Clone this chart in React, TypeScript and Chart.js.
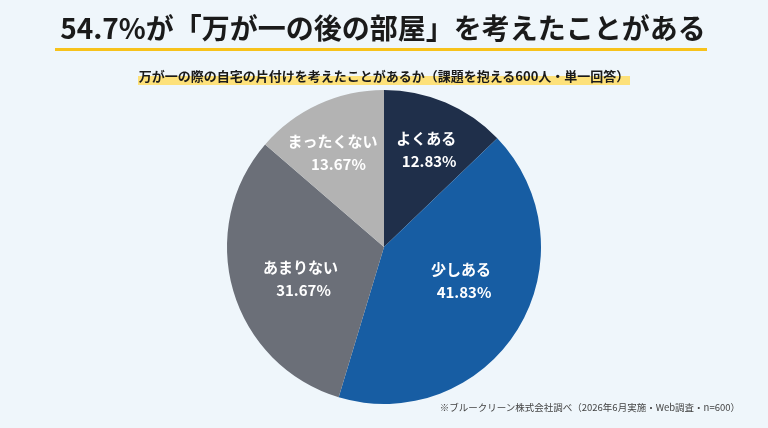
import React, { useEffect, useRef } from "react";
import { Chart, registerables } from "chart.js";

Chart.register(...registerables);

const categories = ["よくある", "少しある", "あまりない", "まったくない"];
const values = [12.83, 41.83, 31.67, 13.67];
const colors = ["#1f2f4a", "#175da3", "#6b6f78", "#b3b3b3"];
const titleText = "54.7%が「万が一の後の部屋」を考えたことがある";
const subtitleText = "万が一の際の自宅の片付けを考えたことがあるか（課題を抱える600人・単一回答）";
const noteText = "※ブルークリーン株式会社調べ（2026年6月実施・Web調査・n=600）";

const FONT = '"Noto Sans CJK JP", "Noto Sans", sans-serif';
const labelNudge = [
  { dx: 4, dy: -7 },
  { dx: -6, dy: -17 },
  { dx: 10, dy: 5 },
  { dx: -11, dy: -5 },
];

const labelPlugin = {
  id: "sliceLabels",
  afterDatasetsDraw(chart: any) {
    const ctx = chart.ctx;
    const meta = chart.getDatasetMeta(0);
    ctx.save();
    ctx.fillStyle = "#ffffff";
    ctx.font = `bold 15px ${FONT}`;
    ctx.textAlign = "center";
    ctx.textBaseline = "middle";
    meta.data.forEach((arc: any, i: number) => {
      const p = arc.getProps(["x", "y", "startAngle", "endAngle", "outerRadius"], true);
      const mid = (p.startAngle + p.endAngle) / 2;
      const r = p.outerRadius * 0.62;
      const n = labelNudge[i] || { dx: 0, dy: 0 };
      const cx = p.x + Math.cos(mid) * r + n.dx;
      const cy = p.y + Math.sin(mid) * r + n.dy;
      ctx.fillText(categories[i], cx, cy - 12);
      ctx.fillText(values[i].toFixed(2) + "%", cx + (i === 3 ? 6 : 3), cy + 11);
    });
    ctx.restore();
  },
};

export default function App() {
  const ref = useRef<HTMLCanvasElement | null>(null);
  useEffect(() => {
    document.body.style.margin = "0";
    if (!ref.current) return;
    const chart = new Chart(ref.current, {
      type: "pie",
      data: {
        labels: categories,
        datasets: [
          {
            data: values,
            backgroundColor: colors,
            borderWidth: 0,
          },
        ],
      },
      options: {
        responsive: false,
        animation: false,
        layout: { padding: { top: 90, bottom: 24, left: 0, right: 0 } },
        plugins: {
          legend: { display: false },
          tooltip: { enabled: false },
          title: { display: false },
        },
      },
      plugins: [labelPlugin],
    });
    return () => chart.destroy();
  }, []);

  return (
    <div
      style={{
        position: "absolute",
        left: 0,
        top: 0,
        width: 768,
        height: 428,
        background: "#eff6fb",
        overflow: "hidden",
        fontFamily: FONT,
      }}
    >
      <canvas ref={ref} width={768} height={428} style={{ position: "absolute", left: 0, top: 0 }} />
      <div
        style={{
          position: "absolute",
          left: 55,
          width: 652,
          top: 8,
          height: 40,
          borderBottom: "3px solid #f7c21b",
          textAlign: "center",
          fontSize: 28,
          fontWeight: 700,
          color: "#1a1a1a",
          lineHeight: "38px",
          paddingLeft: 4,
          boxSizing: "content-box",
          width: 648,
        }}
      >
        {titleText}
      </div>
      <div style={{ position: "absolute", left: 0, width: 768, top: 62, textAlign: "center" }}>
        <span
          style={{
            fontSize: 13,
            fontWeight: 700,
            color: "#1a1a1a",
            lineHeight: "20px",
            background: "linear-gradient(transparent 55%, #fde17a 55%)",
            padding: "0 1px",
          }}
        >
          {subtitleText}
        </span>
      </div>
      <div
        style={{
          position: "absolute",
          right: 28,
          top: 399,
          fontSize: 9.5,
          color: "#444",
          lineHeight: "16px",
        }}
      >
        {noteText}
      </div>
    </div>
  );
}
